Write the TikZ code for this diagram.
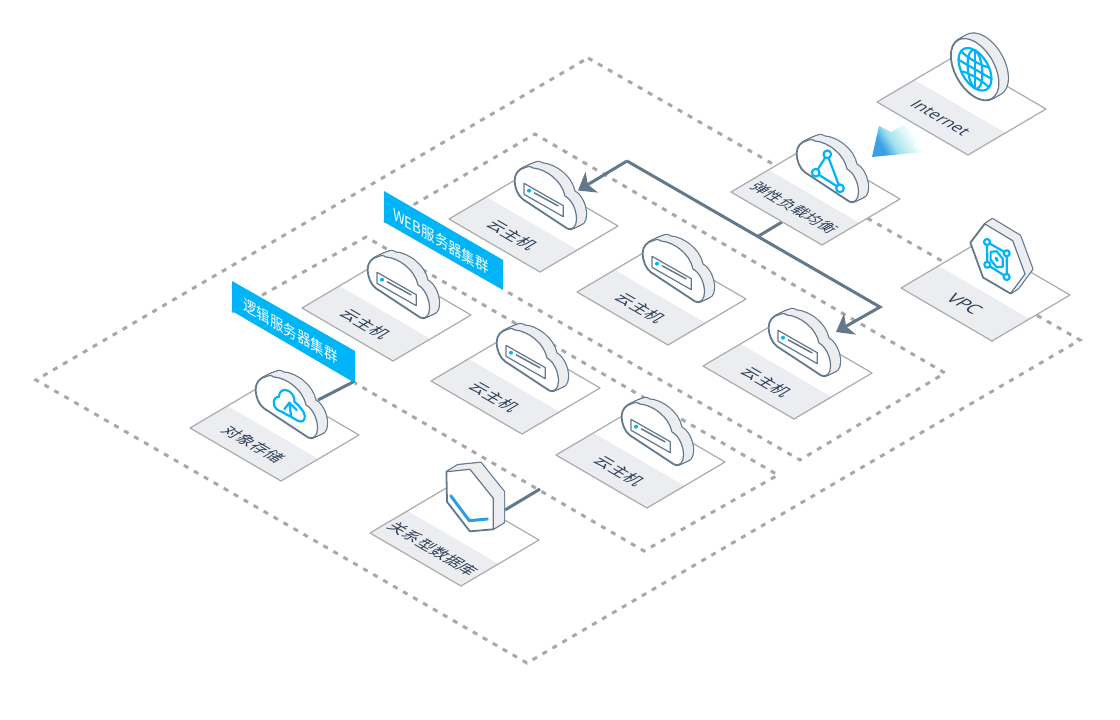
\documentclass[tikz,border=0pt]{standalone}
\usepackage{fontspec}
\setmainfont{Open Sans}
\newfontfamily\cjk{Noto Sans CJK SC}
\usetikzlibrary{arrows.meta}
\definecolor{edgec}{HTML}{64788C}
\definecolor{facec}{HTML}{ECEDF1}
\definecolor{iconc}{HTML}{00B4F8}
\definecolor{dashc}{HTML}{A8A8A8}
\definecolor{tilec}{HTML}{ABABAB}
\definecolor{txtc}{HTML}{2C3E55}
\definecolor{flatc}{HTML}{2B9DE8}
\definecolor{fadeA}{HTML}{3AA0E6}
\definecolor{fadeB}{HTML}{9FE2EE}
\definecolor{fadeC}{HTML}{D5F5F5}
\pgfdeclarehorizontalshading{fadearrow}{100bp}{color(0bp)=(fadeA); color(30bp)=(fadeA); color(42bp)=(fadeB); color(55bp)=(fadeC); color(66bp)=(white); color(100bp)=(white)}
\tikzset{
  regionline/.style={draw=dashc,line width=3pt,dash pattern=on 5pt off 6.5pt},
  linkline/.style={draw=edgec,line width=3pt},
  bigarrow/.style={linkline,-{Stealth[length=16pt,width=24pt,inset=4.5pt]}},
  iconline/.style={draw=iconc,line width=2.2pt,line cap=round,line join=round},
  grouptag/.style={fill=iconc},
  tagtext/.style={transform shape,text=white,inner sep=0pt,font=\cjk\fontsize{15.5}{16}\selectfont},
  tiletext/.style={transform shape,text=txtc,inner sep=0pt},
  front/.style={draw=edgec,fill=white,line width=1.2pt,line join=round}
}
\newcommand{\prism}[4][]{%
  \foreach \k in {0,...,10}{\draw[edgec,line width=2.4pt,line join=round,shift={(\k*#3/10,\k*#4/10)},#1] #2;}
  \foreach \k in {0,...,10}{\fill[facec,shift={(\k*#3/10,\k*#4/10)},#1] #2;}
  \path[front,#1] #2;
}
\newcommand{\tile}[4]{% name, size, font, text
  \fill[white] (0,0)--(91,53)--(169,7)--(78,-46)--cycle;
  \fill[facec] (0,0)--(91,53)--(128.4,30.9)--(37.4,-22.1)--cycle;
  \draw[tilec,line width=1.2pt,line join=round] (0,0)--(91,53)--(169,7)--(78,-46)--cycle;
  \begin{scope}[cm={.864,-.503,.861,.51,(63.5,16)}]
    \node[tiletext,font=#3\fontsize{#2}{#2}\selectfont] (#1) at (0,0) {#4};
  \end{scope}
}
\newcommand{\cloudbody}{\prism{(66,-39) .. controls (66,-45) and (70,-50) .. (76,-51.3) .. controls (78,-53) and (81,-53) .. (84,-51) .. controls (97,-50) and (113,-38) .. (116,-23) .. controls (122,-20) and (127.5,-10) .. (127.5,0) .. controls (127.5,7) and (124,12) .. (118,9) -- (74,-20) .. controls (69,-24) and (66,-31) .. (66,-39) -- cycle}{9.5}{-4.5}}
\newcommand{\servercloud}[1]{%
  \tile{#1}{16.5}{\cjk}{云主机}
  \cloudbody
  \draw[edgec,line width=1.2pt,line join=round] (75,-35.7)--(114.3,-13.3)--(114.3,-2.3)--(75,-24.7)--cycle;
  \draw[edgec,line width=1.5pt] (85,-26.3)--(109.3,-13);
  \fill[iconc] (80,-28.3) circle (2);
}
\begin{document}
\begin{tikzpicture}[x=1pt,y=-1pt]
\useasboundingbox (0,0) rectangle (1120,720);
\fill[white] (0,0) rectangle (1120,720);
% regions
\draw[regionline] (588,58)--(1080,340)--(527,663)--(36,380)--cycle;
\draw[regionline] (384,222)--(535,134)--(945,373)--(800,460)--(504,290);
\draw[regionline] (232,312)--(366,237)--(778,475)--(644,551)--(355,383);
% connector points
\coordinate (hubA) at (627,161);
\coordinate (hubB) at (880,307);
\coordinate (hubC) at (757,237);
\coordinate (lbOut) at (782,222);
\coordinate (webIn) at (578,190.5);
\coordinate (vmIn) at (836,332);
\coordinate (logicTag) at (355,381);
\coordinate (objIn) at (318,400);
\coordinate (logicEnd) at (540,489);
\coordinate (rdbIn) at (505,510);
\draw[linkline] (lbOut)--(hubC);
\draw[linkline] (logicTag)--(objIn);
\draw[linkline] (logicEnd)--(rdbIn);
\draw[bigarrow,line join=miter] (hubA)--(webIn);
\draw[bigarrow,line join=miter] (hubA)--(hubB)--(vmIn);
% gradient arrow
\shade[shading=fadearrow,shading angle=32]
  (872,157)--(879,126)--(891,132)--(907,123)--(928,135)--(913,145)--(924,152)--cycle;
% internet
\begin{scope}[shift={(877,102)}]
  \tile{inetText}{16.5}{}{Internet}
  \prism[cm={.866,-.5,0,1,(98,-32.7)}]{(0,0) circle (27.5)}{9}{-5}
  \begin{scope}[cm={.866,-.5,0,1,(98,-32.7)},iconline]
    \draw (0,0) circle (19);
    \draw (0,0) ellipse (8.5 and 19);
    \draw (0,-19)--(0,19);
    \draw (-19,0)--(19,0);
    \draw (-16,-10) .. controls (-8,-7) and (8,-7) .. (16,-10);
    \draw (-16,10) .. controls (-8,7) and (8,7) .. (16,10);
  \end{scope}
\end{scope}
% load balancer
\begin{scope}[shift={(731,192)}]
  \tile{lbText}{15.4}{\cjk}{弹性负载均衡}
  \cloudbody
  \draw[iconline] (96.3,-37.7)--(84.7,-19.3)--(109,-3.7)--cycle;
  \foreach \p in {(96.3,-37.7),(84.7,-19.3),(109,-3.7)}
    \draw[iconline,fill=white] \p circle (3.8);
\end{scope}
% vpc
\begin{scope}[shift={(901,288)}]
  \tile{vpcText}{18}{}{VPC}
  \prism{(69.7,-45.3)--(84,-64)--(111.7,-47.3)--(124,-14)--(109.7,5.3)--(82.3,-10.7)--cycle}{7.3}{-5}
  \draw[iconline] (86,-46)--(105.7,-34.7)--(105.7,-11)--(86.3,-23.3)--cycle;
  \foreach \p in {(86,-46),(105.7,-34.7),(105.7,-11),(86.3,-23.3)}
    \draw[iconline,fill=white] \p circle (3);
  \begin{scope}[cm={.866,-.5,0,1,(95.7,-28.7)}]
    \draw[iconline,fill=white] (-7,-4)--(0,-8)--(7,-4)--(7,4)--(0,8)--(-7,4)--cycle;
    \fill[iconc] (0,0) circle (2.2);
  \end{scope}
\end{scope}
% web servers
\begin{scope}[shift={(449,219)}]\servercloud{vmA}\end{scope}
\begin{scope}[shift={(577,292)}]\servercloud{vmB}\end{scope}
\begin{scope}[shift={(703,366)}]\servercloud{vmC}\end{scope}
% logic servers
\begin{scope}[shift={(302,308)}]\servercloud{vmD}\end{scope}
\begin{scope}[shift={(431,381)}]\servercloud{vmE}\end{scope}
\begin{scope}[shift={(556,455)}]\servercloud{vmF}\end{scope}
% object storage
\begin{scope}[shift={(190,428)}]
  \tile{objText}{16}{\cjk}{对象存储}
  \cloudbody
  \draw[iconline] (101,-11.3) .. controls (97,-13) and (94,-15) .. (91.7,-16.3) .. controls (87,-18) and (84.3,-20) .. (84,-24) .. controls (83,-29) and (86,-31) .. (89,-31.3) .. controls (89,-36) and (92,-38.5) .. (96,-38) .. controls (101,-37) and (105,-32) .. (104.5,-26) .. controls (108,-23.5) and (110,-21) .. (111.7,-18.7) .. controls (115,-15) and (116,-9) .. (113,-7) .. controls (110,-5) and (105,-9) .. (101,-11.3);
  \draw[iconline] (101,-12)--(99.3,-25.3);
  \draw[iconline] (94.3,-18.7)--(99.3,-25.3)--(106.7,-18);
\end{scope}
% rdb
\begin{scope}[shift={(370,533)}]
  \tile{rdbText}{16}{\cjk}{关系型数据库}
  \prism{(76.7,-61.3)--(100,-63.7)--(123.3,-34.7)--(123.3,-4)--(100,-2)--(77.3,-31.3)--cycle}{10.7}{-6.5}
  \draw[flatc,line width=3pt,line cap=round,line join=round] (80.7,-37.3)--(99.3,-12.3)--(117.3,-14);
\end{scope}
% tags
\fill[grouptag] (384,191)--(503,260)--(503,290)--(384,222)--cycle;
\begin{scope}[cm={.866,-.5,0,1,(441,241)}]
  \node[tagtext] (webTag) at (0,0) {WEB服务器集群};
\end{scope}
\fill[grouptag] (232,281)--(355,351)--(355,383)--(232,311)--cycle;
\begin{scope}[cm={.866,-.5,0,1,(290.5,331)}]
  \node[tagtext] (logicTagText) at (0,0) {逻辑服务器集群};
\end{scope}
\end{tikzpicture}
\end{document}
